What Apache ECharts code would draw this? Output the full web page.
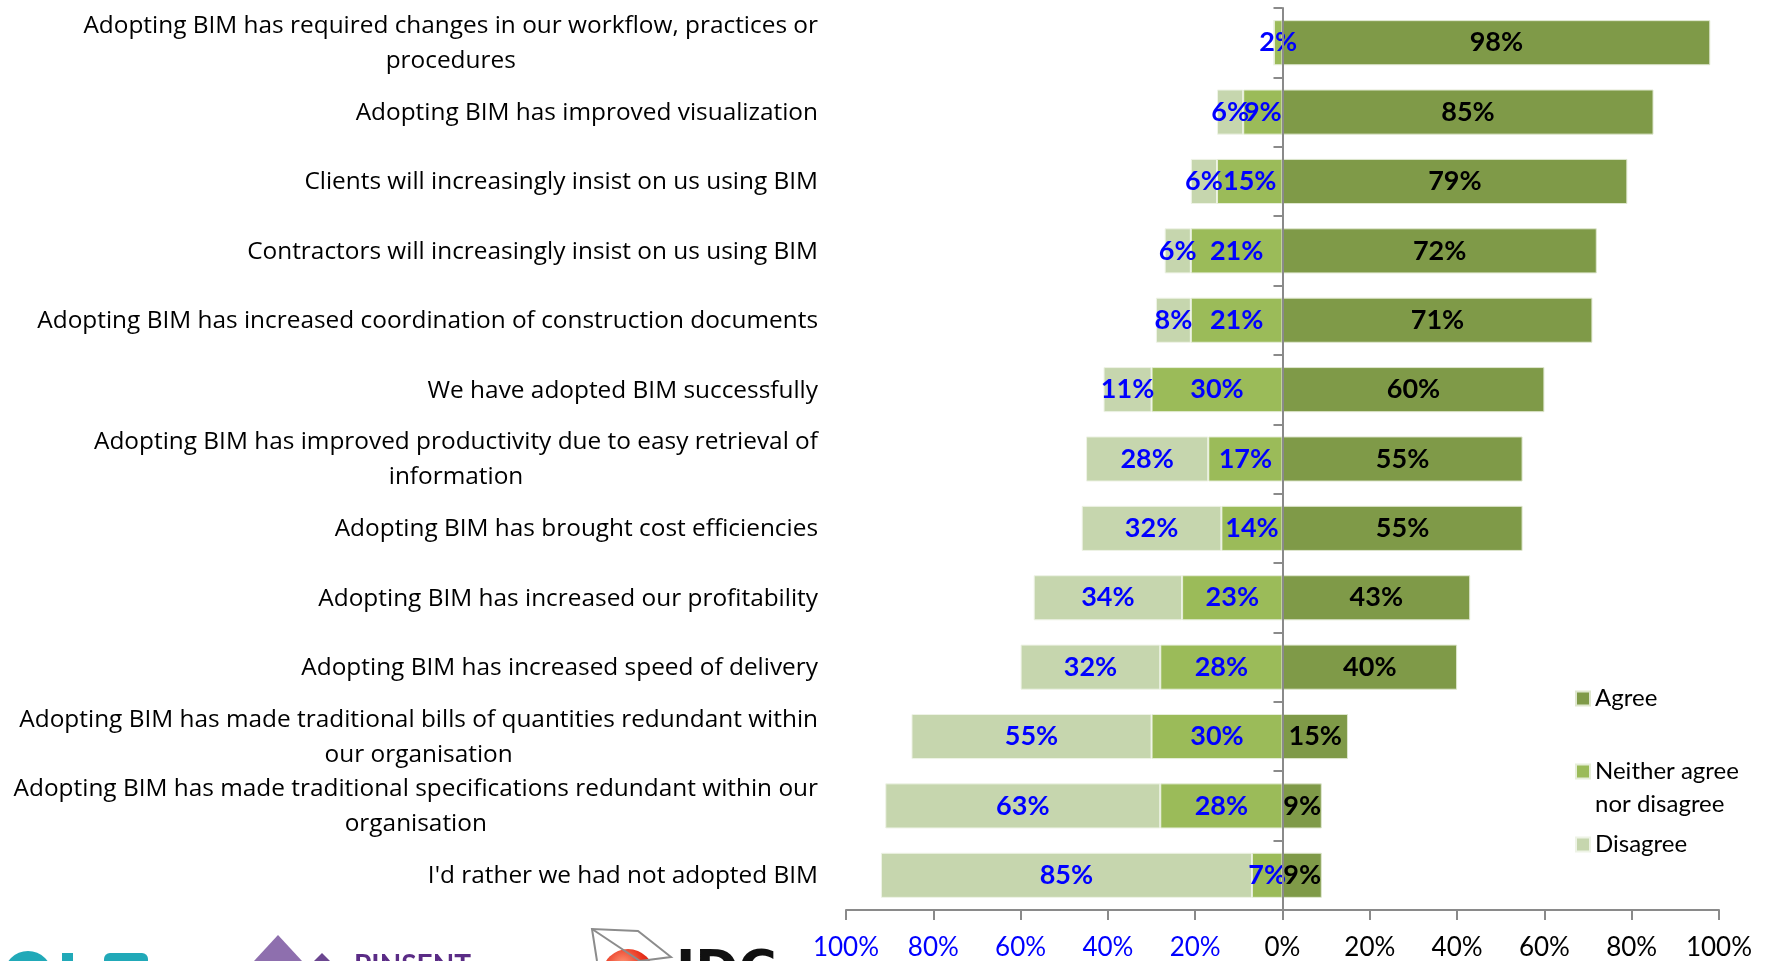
<!DOCTYPE html>
<html>
<head>
<meta charset="utf-8">
<title>BIM adoption attitudes</title>
<script src="https://cdn.jsdelivr.net/npm/echarts@6/dist/echarts.min.js"></script>
<style>
  html, body { margin: 0; padding: 0; background: #ffffff; }
  #chart { width: 1765px; height: 961px; }
</style>
</head>
<body>
<div id="chart"></div>
<script>
// Survey statements (line breaks where the label wraps)
const categories = [
  'Adopting BIM has required changes in our workflow, practices or\nprocedures',
  'Adopting BIM has improved visualization',
  'Clients will increasingly insist on us using BIM',
  'Contractors will increasingly insist on us using BIM',
  'Adopting BIM has increased coordination of construction documents',
  'We have adopted BIM successfully',
  'Adopting BIM has improved productivity due to easy retrieval of\ninformation',
  'Adopting BIM has brought cost efficiencies',
  'Adopting BIM has increased our profitability',
  'Adopting BIM has increased speed of delivery',
  'Adopting BIM has made traditional bills of quantities redundant within\nour organisation',
  'Adopting BIM has made traditional specifications redundant within our\norganisation',
  "I'd rather we had not adopted BIM"
];

// Share of respondents (%)
const agree    = [98, 85, 79, 72, 71, 60, 55, 55, 43, 40, 15,  9,  9];
const neither  = [ 2,  9, 15, 21, 21, 30, 17, 14, 23, 28, 30, 28,  7];
const disagree = [ 0,  6,  6,  6,  8, 11, 28, 32, 34, 32, 55, 63, 85];

// Diverging value axis: -100% .. 100%
const axisMin = -100;
const axisMax = 100;
const axisStep = 20;

const FONT = 'Lato, "Open Sans", sans-serif';
const LABEL_FONT = '"Open Sans", Lato, sans-serif';
const BLUE = '#0000FF';

const pctLabel = (color) => ({
  show: true,
  position: 'inside',
  color: color,
  fontFamily: FONT,
  fontWeight: 'bold',
  fontSize: 27,
  formatter: (p) => (p.value === 0 ? '' : Math.abs(p.value) + '%')
});

const chart = echarts.init(document.getElementById('chart'), null, { renderer: 'canvas' });

const legendBase = {
  orient: 'vertical',
  left: 1570,
  icon: 'rect',
  itemWidth: 14,
  itemHeight: 14,
  selectedMode: false,
  textStyle: { fontFamily: FONT, fontSize: 24, color: '#000', lineHeight: 33 }
};

chart.setOption({
  animation: false,
  backgroundColor: '#ffffff',
  grid: { left: 846, right: 46, top: 8, bottom: 47, containLabel: false },
  legend: [
    Object.assign({}, legendBase, { top: 677, data: ['Agree'] }),
    Object.assign({}, legendBase, {
      // blank first line keeps the marker level with "Neither agree"
      top: 717,
      data: ['Neither agree nor disagree'],
      formatter: () => ' \nNeither agree\nnor disagree'
    }),
    Object.assign({}, legendBase, { top: 823, data: ['Disagree'] })
  ],
  xAxis: {
    type: 'value',
    min: axisMin,
    max: axisMax,
    interval: axisStep,
    splitLine: { show: false },
    axisLine: { show: true, onZero: false, lineStyle: { color: '#8a8a8a', width: 2 } },
    axisTick: { show: true, length: 10, lineStyle: { color: '#8a8a8a', width: 2 } },
    axisLabel: {
      margin: 25,
      fontFamily: FONT,
      fontSize: 26,
      formatter: (v) => Math.abs(v) + '%',
      color: (v) => (Number(v) < 0 ? BLUE : '#000')
    }
  },
  yAxis: [
    {
      // zero line with category ticks
      type: 'category',
      data: categories,
      inverse: true,
      z: 5,
      axisLine: { show: true, onZero: true, lineStyle: { color: '#8a8a8a', width: 2 } },
      axisTick: { show: true, length: 9, lineStyle: { color: '#8a8a8a', width: 2 } },
      axisLabel: { show: false },
      splitLine: { show: false }
    },
    {
      // statement labels along the left edge
      type: 'category',
      data: categories,
      inverse: true,
      position: 'left',
      axisLine: { show: false },
      axisTick: { show: false },
      splitLine: { show: false },
      axisLabel: {
        margin: 28,
        align: 'right',
        fontFamily: LABEL_FONT,
        fontSize: 24.4,
        color: '#000',
        lineHeight: 35,
        formatter: (v) => v.split('\n').map((line) => '{c|' + line + '}').join('\n'),
        rich: {
          c: { align: 'center', fontFamily: LABEL_FONT, fontSize: 24.4, color: '#000', lineHeight: 35, padding: [2, 0, 0, 0] }
        }
      }
    }
  ],
  series: [
    {
      name: 'Neither agree nor disagree',
      type: 'bar',
      stack: 'total',
      barCategoryGap: '35%',
      itemStyle: { color: '#9BBB59', borderColor: '#e6eed9', borderWidth: 1 },
      label: pctLabel(BLUE),
      data: neither.map((v) => -v)
    },
    {
      name: 'Disagree',
      type: 'bar',
      stack: 'total',
      barCategoryGap: '35%',
      itemStyle: { color: '#C6D6AE', borderColor: '#eef3e6', borderWidth: 1 },
      label: pctLabel(BLUE),
      data: disagree.map((v) => -v)
    },
    {
      name: 'Agree',
      type: 'bar',
      stack: 'total',
      barCategoryGap: '35%',
      itemStyle: { color: '#7F9A48', borderColor: '#dfe7cf', borderWidth: 1 },
      label: pctLabel('#000'),
      data: agree
    }
  ],
  graphic: [
    // logo strip along the bottom edge
    { type: 'circle', shape: { cx: 28, cy: 975, r: 24 }, style: { fill: '#21A9B8' } },
    { type: 'rect', shape: { x: 62, y: 953, width: 11, height: 20 }, style: { fill: '#21A9B8' } },
    { type: 'rect', shape: { x: 104, y: 953, width: 44, height: 20, r: [6, 6, 0, 0] }, style: { fill: '#21A9B8' } },
    { type: 'polygon', shape: { points: [[278, 935], [254, 961], [302, 961]] }, style: { fill: '#8E6FAE' } },
    { type: 'polygon', shape: { points: [[322, 953], [314, 961], [330, 961]] }, style: { fill: '#6B4690' } },
    { type: 'text', style: { x: 354, y: 952, text: 'PINSENT', fill: '#5B2C86', font: 'bold 28px ' + FONT, textVerticalAlign: 'top' } },
    { type: 'circle', shape: { cx: 628, cy: 975, r: 26 },
      style: { fill: new echarts.graphic.RadialGradient(0.4, 0.3, 0.8, [
        { offset: 0, color: '#ff9a7a' }, { offset: 0.5, color: '#e8321c' }, { offset: 1, color: '#b3120a' }]) } },
    { type: 'polyline', shape: { points: [[597, 961], [592, 929], [638, 931], [671, 957], [640, 961]] },
      style: { stroke: '#8c8c8c', lineWidth: 2, fill: null } },
    { type: 'polyline', shape: { points: [[592, 929], [640, 961]] }, style: { stroke: '#8c8c8c', lineWidth: 2, fill: null } },
    { type: 'text', style: { x: 676, y: 947, text: 'IDC', fill: '#111', font: 'bold 52px "DejaVu Sans", sans-serif', textVerticalAlign: 'top' } }
  ]
});
</script>
</body>
</html>
